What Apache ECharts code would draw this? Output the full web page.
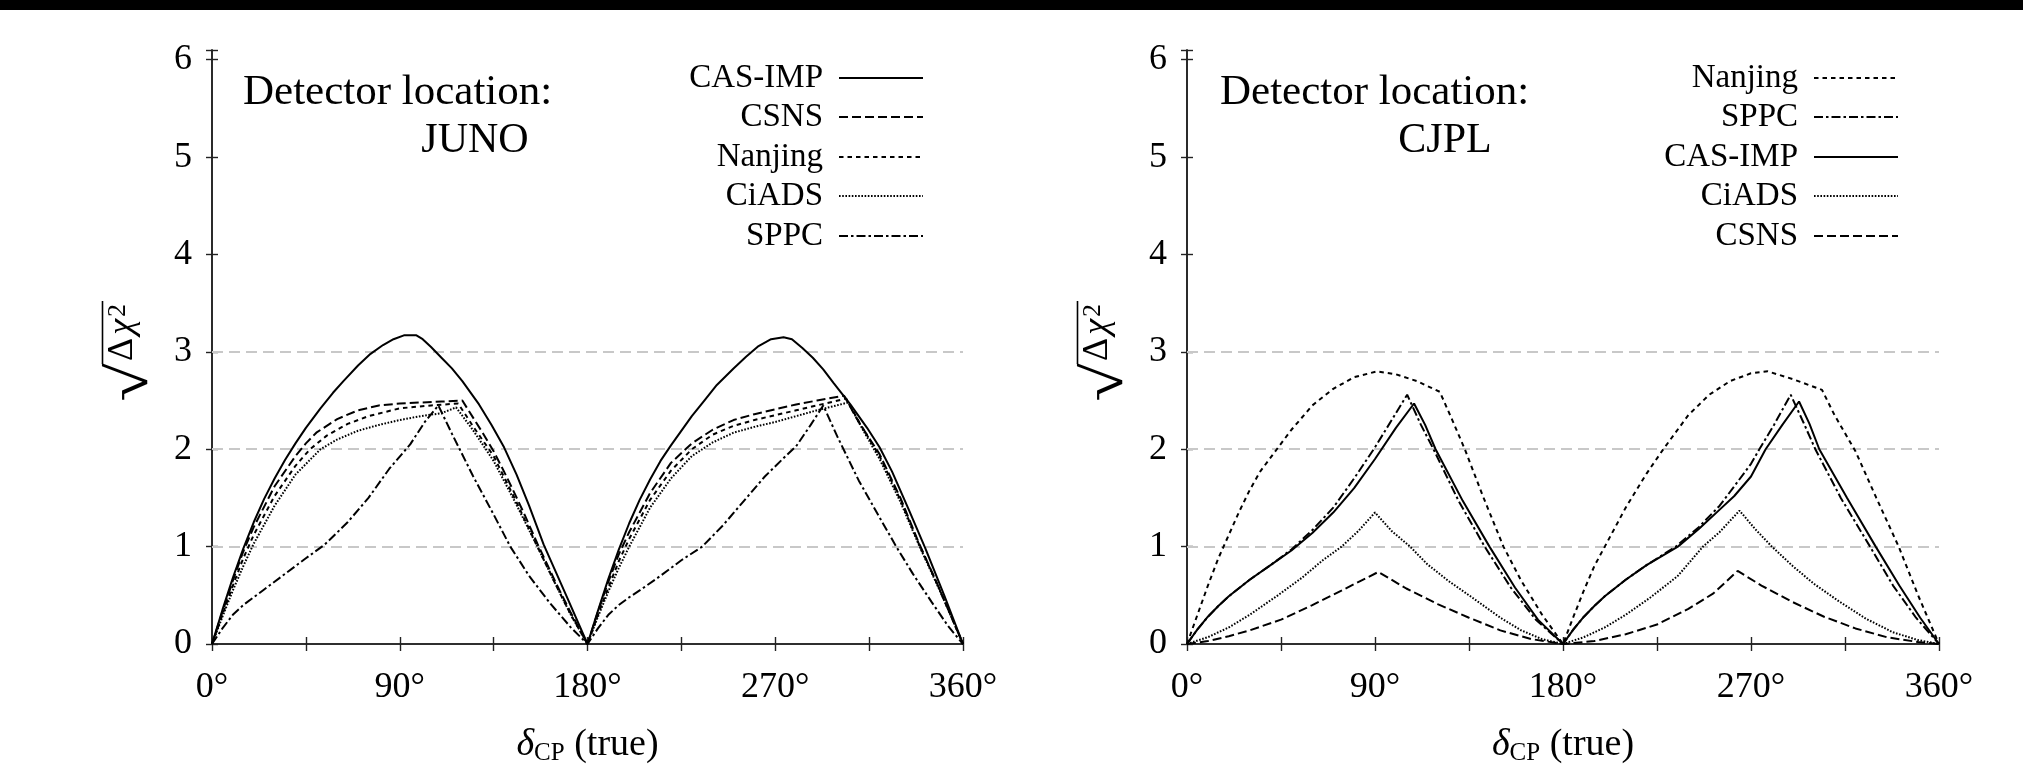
<!DOCTYPE html>
<html><head><meta charset="utf-8">
<script src="https://cdn.jsdelivr.net/npm/echarts@6.0.0/dist/echarts.min.js"></script>
<style>html,body{margin:0;padding:0;background:#fff}#c{width:2023px;height:767px}</style>
</head><body><div id="c"></div><script>
// ---------- data (delta_CP in degrees, sqrt(Delta chi^2)) ----------
const xTicks = [0, 90, 180, 270, 360];
const yTicks = [0, 1, 2, 3, 4, 5, 6];
const gridLevels = [1, 2, 3];

// JUNO detector
const junoCasImp = [[0,0],[5,0.35],[10,0.68],[15,0.98],[20,1.25],[25,1.49],[30,1.7],[35,1.89],[40,2.06],[45,2.22],[52,2.42],[58,2.58],[63,2.7],[70,2.86],[76,2.98],[82,3.07],[87,3.13],[92,3.17],[98,3.17],[101,3.13],[105,3.05],[110,2.94],[115,2.83],[120,2.7],[128,2.46],[134,2.25],[140,2.02],[146,1.74],[152,1.42],[159,1.02],[170,0.49],[180,0],
  [185,0.34],[190,0.67],[195,0.97],[200,1.24],[205,1.48],[210,1.69],[215,1.88],[220,2.04],[230,2.34],[236,2.5],[242,2.66],[250,2.83],[256,2.95],[262,3.06],[268,3.13],[274,3.15],[278,3.13],[283,3.04],[288,2.94],[293,2.82],[298,2.68],[306,2.46],[314,2.22],[320,2.02],[326,1.77],[334,1.38],[342,0.98],[351,0.5],[360,0]];
const junoCsns = [[0,0],[5,0.33],[10,0.65],[15,0.95],[20,1.2],[30,1.62],[40,1.93],[45,2.06],[50,2.17],[60,2.31],[70,2.4],[80,2.45],[90,2.47],[100,2.48],[110,2.49],[120,2.5],[125,2.33],[130,2.16],[135,1.98],[140,1.77],[145,1.55],[150,1.32],[156,1.03],[165,0.62],[172,0.32],[180,0],
  [185,0.33],[190,0.64],[195,0.92],[200,1.15],[210,1.55],[220,1.86],[230,2.06],[240,2.2],[250,2.3],[260,2.36],[270,2.41],[280,2.46],[290,2.5],[303,2.55],[310,2.28],[320,1.95],[330,1.5],[339,1.03],[348,0.6],[354,0.3],[360,0]];
const junoNanjing = [[0,0],[5,0.3],[10,0.6],[15,0.88],[20,1.12],[30,1.52],[40,1.83],[47,2.0],[55,2.14],[65,2.26],[75,2.34],[90,2.42],[105,2.45],[118,2.47],[125,2.24],[135,1.93],[145,1.5],[156,1.0],[165,0.6],[172,0.3],[180,0],
  [185,0.3],[190,0.58],[195,0.85],[200,1.08],[210,1.48],[220,1.78],[230,2.0],[240,2.15],[250,2.24],[260,2.3],[270,2.35],[280,2.4],[290,2.45],[304,2.52],[311,2.25],[320,1.93],[330,1.48],[339,1.02],[348,0.6],[354,0.3],[360,0]];
const junoCiads = [[0,0],[5,0.28],[10,0.55],[15,0.8],[20,1.03],[30,1.42],[40,1.74],[52,2.0],[60,2.1],[70,2.19],[80,2.25],[90,2.3],[100,2.34],[110,2.37],[117,2.43],[125,2.2],[135,1.88],[145,1.47],[156,1.0],[165,0.6],[172,0.3],[180,0],
  [185,0.28],[190,0.54],[195,0.78],[200,1.0],[210,1.4],[220,1.7],[230,1.93],[240,2.07],[250,2.17],[260,2.23],[270,2.28],[280,2.34],[290,2.4],[305,2.48],[312,2.2],[320,1.9],[330,1.46],[339,1.01],[348,0.59],[354,0.3],[360,0]];
const junoSppc = [[0,0],[5,0.16],[10,0.3],[15,0.4],[20,0.48],[25,0.56],[35,0.72],[45,0.88],[54,1.02],[65,1.25],[75,1.5],[85,1.8],[95,2.05],[102,2.28],[108.5,2.45],[115,2.16],[125,1.73],[135,1.33],[143,1.0],[152,0.7],[162,0.42],[172,0.17],[180,0],
  [185,0.16],[190,0.3],[195,0.4],[200,0.48],[205,0.55],[215,0.7],[225,0.86],[235,1.0],[245,1.22],[255,1.47],[265,1.72],[275,1.93],[280,2.03],[287,2.25],[293,2.45],[300,2.12],[310,1.68],[320,1.3],[328,1.0],[336,0.72],[345,0.43],[353,0.18],[360,0]];

// CJPL detector
const cjplNanjing = [[0,0],[5,0.3],[10,0.6],[15,0.88],[20,1.12],[25,1.36],[30,1.58],[35,1.77],[43,2.0],[50,2.2],[60,2.45],[70,2.62],[80,2.74],[91,2.8],[100,2.77],[110,2.7],[121,2.59],[127,2.3],[133,2.0],[142,1.5],[151.5,1.0],[160,0.65],[170,0.3],[180,0],
  [185,0.28],[190,0.55],[195,0.8],[200,1.0],[210,1.4],[220,1.75],[228,2.0],[240,2.35],[250,2.56],[260,2.7],[270,2.78],[278,2.8],[290,2.72],[304,2.61],[310,2.35],[320,1.98],[330,1.5],[340.7,1.0],[350,0.5],[360,0]];
const cjplSppc = [[0,0],[5,0.15],[10,0.28],[15,0.39],[20,0.49],[30,0.66],[40,0.81],[50,0.97],[60,1.17],[70,1.4],[80,1.7],[90,2.02],[98,2.3],[105.4,2.56],[112,2.25],[118,2.0],[130,1.47],[142.5,1.0],[155,0.58],[167,0.25],[180,0],
  [185,0.15],[190,0.28],[195,0.39],[200,0.49],[210,0.66],[220,0.81],[234,1.0],[245,1.2],[255,1.42],[262,1.62],[270,1.85],[274,2.0],[281,2.25],[289,2.56],[295,2.28],[300.8,2.0],[313,1.5],[327,1.0],[338,0.6],[349,0.27],[360,0]];
const cjplCasImp = [[0,0],[5,0.15],[10,0.28],[15,0.39],[20,0.49],[30,0.66],[40,0.81],[50,0.96],[60,1.14],[70,1.35],[80,1.6],[90,1.9],[100,2.22],[108.7,2.47],[114,2.25],[119,2.0],[132,1.47],[144.8,1.0],[157,0.58],[168,0.25],[180,0],
  [185,0.15],[190,0.28],[195,0.39],[200,0.49],[210,0.66],[220,0.81],[235,1.0],[245,1.18],[255,1.38],[262,1.52],[270,1.72],[277,2.0],[285,2.25],[293,2.49],[298,2.26],[302.7,2.0],[316,1.5],[329.7,1.0],[341,0.6],[351,0.27],[360,0]];
const cjplCiads = [[0,0],[10,0.07],[20,0.17],[30,0.3],[43.5,0.5],[55,0.68],[65,0.86],[74,1.0],[82,1.16],[90,1.35],[98,1.16],[106.8,1.0],[115,0.82],[125,0.65],[137,0.47],[150,0.27],[160,0.14],[170,0.05],[180,0],
  [190,0.07],[200,0.17],[210,0.3],[222,0.48],[235,0.7],[247,1.0],[255,1.15],[264.5,1.37],[272,1.18],[280,1.0],[290,0.8],[300,0.62],[312,0.44],[325,0.26],[338,0.12],[350,0.04],[360,0]];
const cjplCsns = [[0,0],[10,0.03],[20,0.08],[30,0.14],[45,0.25],[60,0.4],[75,0.56],[91.6,0.74],[105,0.57],[120,0.41],[135,0.27],[150,0.14],[165,0.05],[180,0],
  [195,0.03],[210,0.1],[225,0.2],[240,0.36],[252,0.52],[263.6,0.75],[275,0.6],[290,0.43],[305,0.28],[320,0.16],[335,0.07],[350,0.02],[360,0]];

const junoLegendOrder = ['CAS-IMP','CSNS','Nanjing','CiADS','SPPC'];
const cjplLegendOrder = ['Nanjing','SPPC','CAS-IMP','CiADS','CSNS'];

// ---------- styling ----------
const FONT = 'Liberation Serif';
const dashes = {'CAS-IMP':'solid','CSNS':[9,4],'Nanjing':[4.5,4],'CiADS':[1.6,1.6],'SPPC':[9,3,2.5,3]};
const grids = [
  {left:212, top:50, width:751, height:594, outerBoundsMode:'none', containLabel:false},
  {left:1187, top:50, width:752, height:594, outerBoundsMode:'none', containLabel:false}
];

function mkSeries(name, data, gi, withGrid){
  const s = {
    name, type:'line', data, xAxisIndex: gi*2, yAxisIndex: gi*2,
    symbol:'none', smooth:false, z:3, animation:false,
    lineStyle:{color:'#000', width:2, type:dashes[name]},
    itemStyle:{color:'#000'}
  };
  if (withGrid) {
    s.markLine = {silent:true, symbol:'none', z:1, animation:false,
      label:{show:false},
      lineStyle:{color:'#c8c8c8', width:2, type:[11,6]},
      data: gridLevels.map(v => ({yAxis:v}))};
  }
  return s;
}

const series = [
  mkSeries('CAS-IMP', junoCasImp, 0, true),
  mkSeries('CSNS', junoCsns, 0),
  mkSeries('Nanjing', junoNanjing, 0),
  mkSeries('CiADS', junoCiads, 0),
  mkSeries('SPPC', junoSppc, 0),
  mkSeries('Nanjing', cjplNanjing, 1, true),
  mkSeries('SPPC', cjplSppc, 1),
  mkSeries('CAS-IMP', cjplCasImp, 1),
  mkSeries('CiADS', cjplCiads, 1),
  mkSeries('CSNS', cjplCsns, 1)
];

const axisLine = {show:true, lineStyle:{color:'#222', width:1.6}};
const xAxes = [], yAxes = [];
grids.forEach((g, gi) => {
  xAxes.push({type:'value', gridIndex:gi, min:0, max:360, interval:45, position:'bottom',
    axisLine, axisTick:{show:true, inside:true, length:7, lineStyle:{color:'#222', width:1.4}},
    splitLine:{show:false},
    axisLabel:{show:true, margin:26, fontFamily:FONT, fontSize:36, color:'#000',
      formatter: v => xTicks.includes(v) ? v + '°' : ''},
    name:'{d|δ}{s|CP} (true)', nameLocation:'middle', nameGap:81,
    nameTextStyle:{fontFamily:FONT, fontSize:38, color:'#000',
      rich:{d:{fontFamily:FONT, fontStyle:'italic', fontSize:38, color:'#000'},
            s:{fontFamily:FONT, fontSize:25, color:'#000', padding:[16,0,0,0]}}}
  });
  xAxes.push({type:'value', gridIndex:gi, min:0, max:360, interval:45, position:'top',
    axisLine, axisTick:{show:true, inside:true, length:7, lineStyle:{color:'#222', width:1.4}},
    splitLine:{show:false}, axisLabel:{show:false}});
  yAxes.push({type:'value', gridIndex:gi, min:0, max:6.1, interval:1, position:'left',
    axisLine, axisTick:{show:true, inside:true, length:6, lineStyle:{color:'#222', width:1.4}},
    splitLine:{show:false},
    axisLabel:{show:true, margin:20, fontFamily:FONT, fontSize:36, color:'#000',
      formatter: v => yTicks.includes(v) ? String(v) : ''}});
  yAxes.push({type:'value', gridIndex:gi, min:0, max:6.1, interval:1, position:'right',
    axisLine, axisTick:{show:true, inside:true, length:6, lineStyle:{color:'#222', width:1.4}},
    splitLine:{show:false}, axisLabel:{show:false}});
});

const rowCenters = [77, 116, 156, 195, 235];
const legends = [];
function addLegends(order, rightPx){
  order.forEach((name, i) => {
    legends.push({data:[name], right:rightPx, top:rowCenters[i]-17, align:'right',
      orient:'vertical', padding:0, itemWidth:84, itemHeight:14, selectedMode:false,
      itemStyle:{opacity:0},
      textStyle:{fontFamily:FONT, fontSize:33, color:'#000', lineHeight:36, padding:[0,11,0,0]}});
  });
}
addLegends(junoLegendOrder, 2023-924);
addLegends(cjplLegendOrder, 2023-1899);

// ---------- y-axis title  sqrt(Delta chi^2)  (rotated, with radical + vinculum) ----------
const mctx = document.createElement('canvas').getContext('2d');
function measure(txt, font){
  mctx.font = font; mctx.textBaseline = 'middle'; mctx.textAlign = 'left';
  const m = mctx.measureText(txt);
  return {l:m.actualBoundingBoxLeft, r:m.actualBoundingBoxRight, a:m.actualBoundingBoxAscent, d:m.actualBoundingBoxDescent, w:m.width};
}
function yTitle(gx, gy){
  const F = 36, FS = 26;
  const fUp = F + 'px "' + FONT + '"', fIt = 'italic ' + F + 'px "' + FONT + '"', fSup = FS + 'px "' + FONT + '"';
  const base = measure('H', fUp).d;         // middle -> baseline offset
  const baseS = measure('2', fSup).d;
  const wD = measure('Δ', fUp).w, wC = measure('χ', fIt).w, w2 = measure('2', fSup).w;
  // radical glyph fitted to box local x [-37,0], y [-30,16]
  const R = measure('√', '100px "' + FONT + '"');
  const RF = 100 * 46 / (R.a + R.d);
  const k = RF / 100;
  const sx = 37 / ((R.l + R.r) * k);
  const xC = 2 + wD + 3, x2 = xC + wC + 2, xEnd = x2 + w2 + 3;
  return {type:'group', x:gx, y:gy, rotation:Math.PI/2, silent:true, children:[
    {type:'text', x:-37 + R.l*k*sx, y:-30 + R.a*k, scaleX:sx, scaleY:1,
      style:{text:'√', fontFamily:FONT, fontSize:RF, fill:'#000', align:'left', verticalAlign:'middle'}},
    {type:'line', shape:{x1:-1, y1:-29.5, x2:xEnd, y2:-29.5}, style:{stroke:'#000', lineWidth:1.6}},
    {type:'text', x:2, y:-base, style:{text:'Δ', fontFamily:FONT, fontSize:F, fill:'#000', align:'left', verticalAlign:'middle'}},
    {type:'text', x:xC, y:-base, style:{text:'χ', fontFamily:FONT, fontStyle:'italic', fontSize:F, fill:'#000', align:'left', verticalAlign:'middle'}},
    {type:'text', x:x2, y:-7 - baseS, style:{text:'2', fontFamily:FONT, fontSize:FS, fill:'#000', align:'left', verticalAlign:'middle'}}
  ]};
}

const graphic = [
  {type:'rect', shape:{x:0, y:0, width:2023, height:10}, style:{fill:'#000'}},
  {type:'text', x:243, y:93, style:{text:'Detector location:', fontFamily:FONT, fontSize:43, fill:'#000', verticalAlign:'middle'}},
  {type:'text', x:475, y:141, style:{text:'JUNO', fontFamily:FONT, fontSize:42, fill:'#000', align:'center', verticalAlign:'middle'}},
  {type:'text', x:1220, y:93, style:{text:'Detector location:', fontFamily:FONT, fontSize:43, fill:'#000', verticalAlign:'middle'}},
  {type:'text', x:1445, y:141, style:{text:'CJPL', fontFamily:FONT, fontSize:42, fill:'#000', align:'center', verticalAlign:'middle'}},
  yTitle(132, 363),
  yTitle(132 + 975, 363)
];

const chart = echarts.init(document.getElementById('c'), null, {renderer:'canvas'});
chart.setOption({
  backgroundColor:'#fff', animation:false,
  grid: grids, xAxis: xAxes, yAxis: yAxes,
  legend: legends, series, graphic
});
</script></body></html>
